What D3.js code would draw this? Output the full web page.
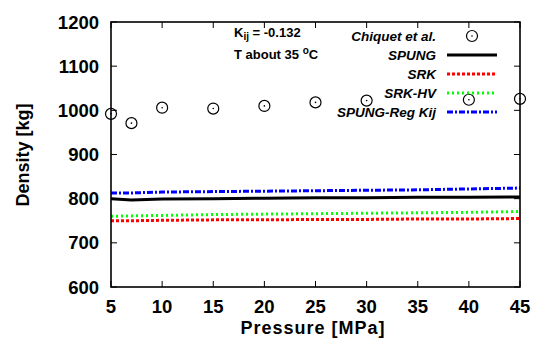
<!DOCTYPE html>
<html>
<head>
<meta charset="utf-8">
<script src="https://cdn.jsdelivr.net/npm/d3@7"></script>
<style>
  body { margin: 0; background: #fff; }
  text { font-family: "Liberation Sans", Arial, sans-serif; font-weight: bold; }
</style>
</head>
<body>
<div id="chart"></div>
<script>
// measured points (Chiquet et al.)
const expP = [5, 7, 10, 15, 20, 25, 30, 40, 45];
const expRho = [992, 971, 1006, 1004, 1010, 1018, 1022, 1024, 1026];

// model curves
const modelP = [5, 7, 10, 15, 20, 25, 30, 35, 40, 45];
const spung = [800, 797, 799, 800, 801, 802, 802, 803, 803, 804];
const srk = [750, 750, 751, 752, 752, 753, 753, 754, 754, 755];
const srkHv = [760, 761, 762, 764, 765, 766, 767, 768, 769, 771];
const spungReg = [813, 813, 815, 816, 817, 818, 819, 820, 822, 824];

const xTicks = [5, 10, 15, 20, 25, 30, 35, 40, 45];
const yTicks = [600, 700, 800, 900, 1000, 1100, 1200];

const series = [
    { name: "SPUNG", values: spung, color: "#000", width: 3, dash: null },
    { name: "SRK", values: srk, color: "#ff0000", width: 3, dash: "3,2" },
    { name: "SRK-HV", values: srkHv, color: "#00ff00", width: 3, dash: "2,3" },
    { name: "SPUNG-Reg Kij", values: spungReg, color: "#0000ff", width: 3, dash: "6,2,2,2" }
];

const width = 536, height = 345;
const margin = { left: 111, right: 16, top: 22, bottom: 58 };

const svg = d3.select("#chart").append("svg")
    .attr("width", width)
    .attr("height", height);

const x = d3.scaleLinear().domain([5, 45]).range([margin.left, width - margin.right]);
const y = d3.scaleLinear().domain([600, 1200]).range([height - margin.bottom, margin.top]);

// lines first so the frame sits on top
const line = d3.line().x((d, i) => x(modelP[i])).y(d => y(d));
series.forEach(s => {
    svg.append("path")
        .datum(s.values)
        .attr("d", line)
        .attr("fill", "none")
        .attr("stroke", s.color)
        .attr("stroke-width", s.width)
        .attr("stroke-dasharray", s.dash);
});

// experimental circles
function drawMarker(g, cx, cy) {
    g.append("circle")
        .attr("cx", cx).attr("cy", cy).attr("r", 5.5)
        .attr("fill", "none").attr("stroke", "#000").attr("stroke-width", 1.2);
    g.append("circle")
        .attr("cx", cx).attr("cy", cy).attr("r", 0.8)
        .attr("fill", "#000");
}

// frame and ticks
const tickLen = 6;
const x0 = x.range()[0], x1 = x.range()[1];
const y0 = y.range()[0], y1 = y.range()[1];

svg.append("rect")
    .attr("x", x0).attr("y", y1)
    .attr("width", x1 - x0).attr("height", y0 - y1)
    .attr("fill", "none").attr("stroke", "#000").attr("stroke-width", 1.6);

xTicks.forEach(t => {
    svg.append("line").attr("x1", x(t)).attr("x2", x(t))
        .attr("y1", y0).attr("y2", y0 - tickLen).attr("stroke", "#000");
    svg.append("line").attr("x1", x(t)).attr("x2", x(t))
        .attr("y1", y1).attr("y2", y1 + tickLen).attr("stroke", "#000");
    svg.append("text")
        .attr("x", x(t)).attr("y", 313)
        .attr("text-anchor", "middle")
        .attr("font-size", 18.5)
        .text(t);
});

yTicks.forEach(t => {
    svg.append("line").attr("x1", x0).attr("x2", x0 + tickLen)
        .attr("y1", y(t)).attr("y2", y(t)).attr("stroke", "#000");
    svg.append("line").attr("x1", x1).attr("x2", x1 - tickLen)
        .attr("y1", y(t)).attr("y2", y(t)).attr("stroke", "#000");
    svg.append("text")
        .attr("x", x0 - 12).attr("y", y(t) + 6.5)
        .attr("text-anchor", "end")
        .attr("font-size", 18.5)
        .text(t);
});

expP.forEach((p, i) => drawMarker(svg, x(p), y(expRho[i])));

// axis titles
svg.append("text")
    .attr("x", 313).attr("y", 334)
    .attr("text-anchor", "middle")
    .attr("font-size", 18)
    .attr("letter-spacing", 1)
    .text("Pressure [MPa]");

svg.append("text")
    .attr("transform", `translate(29, 155) rotate(-90)`)
    .attr("text-anchor", "middle")
    .attr("font-size", 18)
    .text("Density [kg]");

// annotations
const kij = svg.append("text").attr("x", 234).attr("y", 37).attr("font-size", 13);
kij.append("tspan").text("K");
kij.append("tspan").attr("dy", 3).attr("font-size", 10).text("ij");
kij.append("tspan").attr("dy", -3).text(" = -0.132");

const temp = svg.append("text").attr("x", 234).attr("y", 59).attr("font-size", 13);
temp.append("tspan").text("T about 35 ");
temp.append("tspan").attr("dy", -5).attr("font-size", 10).text("o");
temp.append("tspan").attr("dy", 5).text("C");

// legend
const legend = svg.append("g");
const legX = 436, sampleX0 = 447, sampleX1 = 497;
const rowY = [36, 55, 74, 93, 112];
const legNames = ["Chiquet et al."].concat(series.map(s => s.name));

legNames.forEach((name, i) => {
    legend.append("text")
        .attr("x", legX).attr("y", rowY[i] + 5)
        .attr("text-anchor", "end")
        .attr("font-size", 13.5)
        .attr("font-style", "italic")
        .text(name);
});
drawMarker(legend, (sampleX0 + sampleX1) / 2, rowY[0]);
series.forEach((s, i) => {
    legend.append("line")
        .attr("x1", sampleX0).attr("x2", sampleX1)
        .attr("y1", rowY[i + 1]).attr("y2", rowY[i + 1])
        .attr("stroke", s.color)
        .attr("stroke-width", s.width)
        .attr("stroke-dasharray", s.dash);
});
</script>
</body>
</html>
